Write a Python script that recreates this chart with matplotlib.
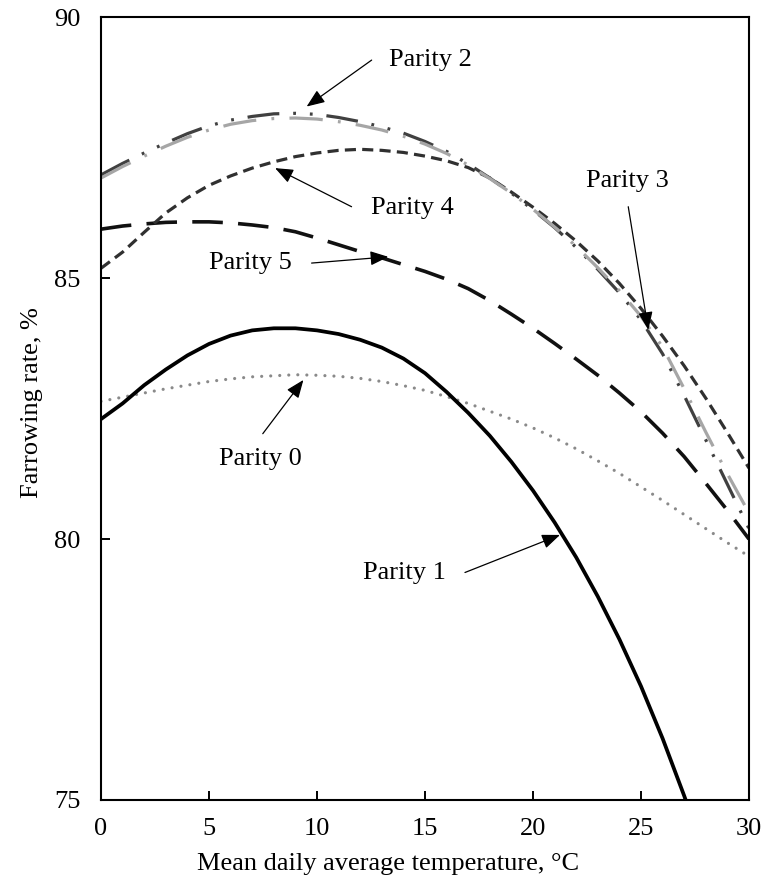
import numpy as np
import matplotlib
matplotlib.use("Agg")
import matplotlib.pyplot as plt

# ---------------- data ----------------
temperature = list(range(0, 31))  # °C

parity0 = [82.64, 82.72, 82.80, 82.88, 82.95, 83.02, 83.07, 83.11, 83.13, 83.15,
           83.14, 83.12, 83.08, 83.02, 82.94, 82.85, 82.73, 82.60, 82.45, 82.30,
           82.13, 81.94, 81.73, 81.50, 81.26, 81.00, 80.74, 80.47, 80.20, 79.93, 79.67]

parity1 = [82.30, 82.60, 82.95, 83.25, 83.52, 83.74, 83.90, 84.00, 84.04, 84.04,
           84.00, 83.93, 83.82, 83.67, 83.46, 83.18, 82.82, 82.42, 81.98, 81.48,
           80.93, 80.32, 79.65, 78.90, 78.08, 77.18, 76.18, 75.08, 73.90, np.nan, np.nan]

parity2 = [86.98, 87.20, 87.40, 87.59, 87.77, 87.92, 88.03, 88.10, 88.15, 88.16,
           88.14, 88.08, 88.00, 87.90, 87.78, 87.62, 87.43, 87.19, 86.92, 86.63,
           86.31, 85.97, 85.59, 85.17, 84.72, 84.20, 83.55, 82.75, 81.90, 81.05, 80.20]

parity3 = [86.92, 87.14, 87.34, 87.53, 87.70, 87.84, 87.95, 88.02, 88.06, 88.07,
           88.05, 88.00, 87.93, 87.84, 87.72, 87.57, 87.39, 87.17, 86.91, 86.63,
           86.32, 85.98, 85.61, 85.20, 84.76, 84.27, 83.68, 82.88, 82.05, 81.25, 80.50]

parity4 = [85.19, 85.50, 85.88, 86.25, 86.54, 86.78, 86.96, 87.11, 87.23, 87.33,
           87.40, 87.45, 87.47, 87.45, 87.41, 87.34, 87.25, 87.12, 86.92, 86.65,
           86.36, 86.05, 85.71, 85.33, 84.90, 84.42, 83.89, 83.32, 82.70, 82.04, 81.36]

parity5 = [85.94, 86.00, 86.04, 86.07, 86.08, 86.08, 86.06, 86.02, 85.97, 85.89,
           85.77, 85.64, 85.51, 85.39, 85.26, 85.13, 84.98, 84.80, 84.57, 84.31,
           84.04, 83.75, 83.45, 83.14, 82.80, 82.44, 82.03, 81.58, 81.07, 80.55, 80.00]

series_labels = ["Parity 0", "Parity 1", "Parity 2", "Parity 3", "Parity 4", "Parity 5"]

x_ticks = [0, 5, 10, 15, 20, 25, 30]
y_ticks = [75, 80, 85, 90]
x_label = "Mean daily average temperature, °C"
y_label = "Farrowing rate, %"

# ---------------- styling ----------------
plt.rcParams["font.family"] = ["Liberation Serif", "DejaVu Serif"]
plt.rcParams["lines.scale_dashes"] = False
FS = 19

fig = plt.figure(figsize=(7.64, 8.81), dpi=100)
W, H = 764, 881
ax = fig.add_axes([101 / W, 1 - 800 / H, (749 - 101) / W, (800 - 17.3) / H])

styles = {
    "Parity 2": dict(color="#404040", lw=2.3, dashes=(23, 10, 2, 10, 2, 10), dash_capstyle="butt"),
    "Parity 3": dict(color="#a6a6a6", lw=2.3, dashes=(24, 11, 2, 11), dash_capstyle="butt"),
    "Parity 4": dict(color="#303030", lw=2.3, dashes=(8, 4.5), dash_capstyle="butt"),
    "Parity 5": dict(color="#111111", lw=2.6, dashes=(22, 11), dash_capstyle="butt"),
    "Parity 0": dict(color="#8a8a8a", lw=2.3, dashes=(0.01, 6.5), dash_capstyle="round"),
    "Parity 1": dict(color="#000000", lw=2.7, linestyle="-"),
}
data = {"Parity 0": parity0, "Parity 1": parity1, "Parity 2": parity2,
        "Parity 3": parity3, "Parity 4": parity4, "Parity 5": parity5}

for name in ["Parity 0", "Parity 5", "Parity 4", "Parity 2", "Parity 3", "Parity 1"]:
    st = dict(styles[name])
    dashes = st.pop("dashes", None)
    line, = ax.plot(temperature, data[name], **st)
    if dashes is not None:
        line.set_dashes(dashes)

ax.set_xlim(0, 30)
ax.set_ylim(75, 90)
ax.set_xticks(x_ticks)
ax.set_yticks(y_ticks)
ax.tick_params(axis="both", direction="in", length=6.5, width=1.4, labelsize=FS,
               colors="black")
ax.tick_params(axis="x", pad=13)
ax.tick_params(axis="y", pad=15)
for sp in ax.spines.values():
    sp.set_linewidth(1.5)
    sp.set_color("black")

fig.text(388 / W, 1 - 864 / H, x_label, ha="center", va="center", fontsize=FS)
fig.text(32 / W, 1 - 403 / H, y_label, ha="center", va="center", rotation=90, fontsize=FS)

# annotation positions: (text center, arrow tail, arrow tip) in data units
annotations = {
    "Parity 2": ((15.23, 89.18), (12.53, 89.18), (9.52, 88.29)),
    "Parity 4": ((14.40, 86.35), (11.60, 86.37), (8.06, 87.11)),
    "Parity 5": ((6.90, 85.29), (9.75, 85.29), (13.30, 85.41)),
    "Parity 3": ((24.38, 86.86), (24.41, 86.37), (25.34, 84.01)),
    "Parity 0": ((7.40, 81.54), (7.49, 82.02), (9.37, 83.05)),
    "Parity 1": ((14.03, 79.35), (16.85, 79.36), (21.25, 80.08)),
}
for name, (tpos, tail, tip) in annotations.items():
    ax.text(tpos[0], tpos[1], name, ha="center", va="center", fontsize=FS)
    ax.annotate("", xy=tip, xytext=tail,
                arrowprops=dict(arrowstyle="-|>,head_length=0.55,head_width=0.22",
                                mutation_scale=20, lw=0.9, color="black",
                                shrinkA=0, shrinkB=0))

fig.savefig("out.png", dpi=100)
